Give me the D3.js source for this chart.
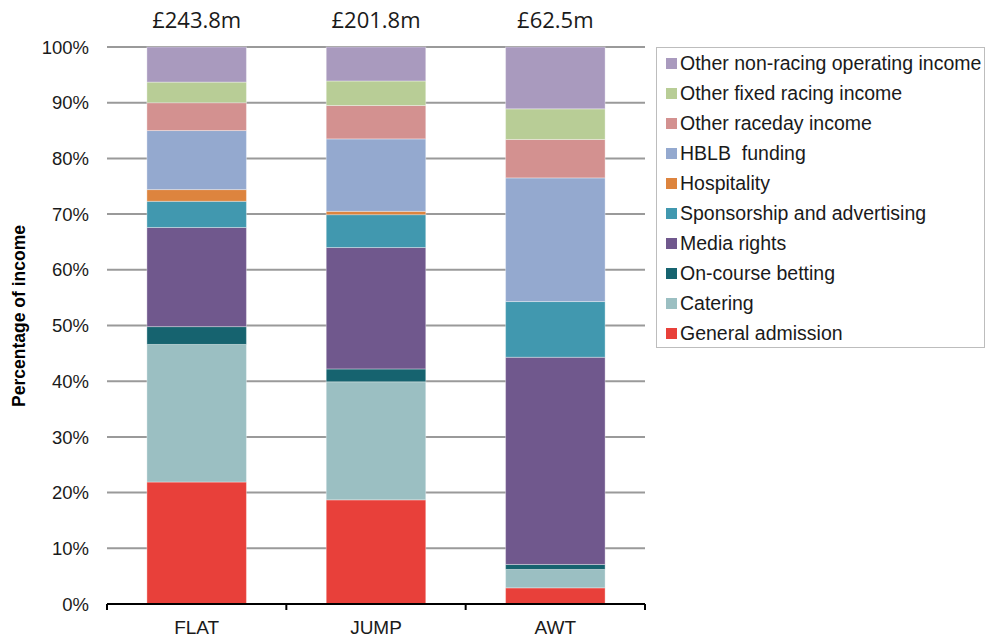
<!DOCTYPE html>
<html>
<head>
<meta charset="utf-8">
<script src="https://cdn.jsdelivr.net/npm/d3@7"></script>
<style>
  html, body { margin: 0; padding: 0; background: #fff; }
  svg { display: block; font-family: "Liberation Sans", Arial, sans-serif; }
</style>
</head>
<body>
<svg id="chart" width="986" height="639"></svg>
<script>
// Racecourse income mix by racing type (share of total income, %)
const categories = ["FLAT", "JUMP", "AWT"];
const totals = ["£243.8m", "£201.8m", "£62.5m"];
const seriesNames = [
  "General admission",
  "Catering",
  "On-course betting",
  "Media rights",
  "Sponsorship and advertising",
  "Hospitality",
  "HBLB  funding",
  "Other raceday income",
  "Other fixed racing income",
  "Other non-racing operating income"
];
const generalAdmission = [21.9, 18.7, 2.9];
const catering         = [24.7, 21.2, 3.3];
const onCourseBetting  = [3.2, 2.3, 0.9];
const mediaRights      = [17.8, 21.8, 37.2];
const sponsorship      = [4.7, 5.9, 10.0];
const hospitality      = [2.1, 0.6, 0.0];
const hblbFunding      = [10.6, 13.0, 22.2];
const otherRaceday     = [5.0, 6.0, 6.9];
const otherFixed       = [3.7, 4.4, 5.5];
const otherNonRacing   = [6.3, 6.1, 11.1];
const yTicks = [0, 10, 20, 30, 40, 50, 60, 70, 80, 90, 100];

const seriesValues = [generalAdmission, catering, onCourseBetting, mediaRights,
  sponsorship, hospitality, hblbFunding, otherRaceday, otherFixed, otherNonRacing];
const colors = ["#E8403A", "#9BBFC2", "#16636F", "#70588D", "#4198AF",
  "#DD843E", "#94A9CF", "#D39190", "#B8CD96", "#A99ABE"];

const rows = categories.map((c, i) => {
  const r = { cat: c };
  seriesNames.forEach((s, k) => { r[s] = seriesValues[k][i]; });
  return r;
});
const stacked = d3.stack().keys(seriesNames)(rows);

const svg = d3.select("#chart");
const plotLeft = 107, plotRight = 645, plotTop = 47, plotBottom = 604;

const x = d3.scaleBand().domain(categories).range([plotLeft, plotRight]).paddingInner(0.445).paddingOuter(0.2225);
const y = d3.scaleLinear().domain([0, 100]).range([plotBottom, plotTop]);
const color = d3.scaleOrdinal().domain(seriesNames).range(colors);

// Gridlines
svg.append("g")
  .selectAll("line")
  .data(yTicks.filter(t => t > 0))
  .join("line")
  .attr("x1", plotLeft).attr("x2", plotRight)
  .attr("y1", d => y(d)).attr("y2", d => y(d))
  .attr("stroke", "#9a9a9a").attr("stroke-width", 2);

// Y tick labels
svg.append("g")
  .selectAll("text")
  .data(yTicks)
  .join("text")
  .attr("x", 89).attr("y", d => y(d))
  .attr("dy", "0.36em")
  .attr("text-anchor", "end")
  .attr("font-size", 18.5)
  .attr("fill", "#1a1a1a")
  .text(d => d + "%");

// Y axis title
svg.append("text")
  .attr("transform", `translate(25,316) rotate(-90)`)
  .attr("text-anchor", "middle")
  .attr("font-size", 17.5)
  .attr("font-weight", "bold")
  .attr("fill", "#000")
  .text("Percentage of income");

// Stacked bars
svg.append("g")
  .selectAll("g")
  .data(stacked)
  .join("g")
  .attr("fill", d => color(d.key))
  .selectAll("rect")
  .data(d => d)
  .join("rect")
  .attr("x", d => x(d.data.cat))
  .attr("width", x.bandwidth())
  .attr("y", d => y(d[1]))
  .attr("height", d => Math.max(0, y(d[0]) - y(d[1])))
  .attr("stroke", "#ffffff")
  .attr("stroke-opacity", 0.35)
  .attr("stroke-width", 1);

// X axis
const xAxis = svg.append("g").attr("transform", `translate(0,${plotBottom})`);
xAxis.append("line")
  .attr("x1", plotLeft).attr("x2", plotRight)
  .attr("stroke", "#000").attr("stroke-width", 2);
const edges = [plotLeft].concat(categories.map(c => x(c) + x.bandwidth() + x.step() * x.paddingInner() / 2));
edges[edges.length - 1] = plotRight;
xAxis.selectAll("line.tick")
  .data(edges)
  .join("line")
  .attr("class", "tick")
  .attr("x1", d => d).attr("x2", d => d)
  .attr("y1", 0).attr("y2", 6)
  .attr("stroke", "#000").attr("stroke-width", 2);
xAxis.selectAll("text")
  .data(categories)
  .join("text")
  .attr("x", d => x(d) + x.bandwidth() / 2)
  .attr("y", 30)
  .attr("text-anchor", "middle")
  .attr("font-size", 19)
  .attr("fill", "#1a1a1a")
  .text(d => d);

// Totals above bars
svg.append("g")
  .selectAll("text")
  .data(categories)
  .join("text")
  .attr("x", d => x(d) + x.bandwidth() / 2)
  .attr("y", 28)
  .attr("text-anchor", "middle")
  .attr("font-family", "'Open Sans', 'Liberation Sans', sans-serif")
  .attr("font-size", 22)
  .attr("fill", "#1a1a1a")
  .text((d, i) => totals[i]);

// Legend
const legend = svg.append("g");
legend.append("rect")
  .attr("x", 656.5).attr("y", 47.5)
  .attr("width", 328).attr("height", 300)
  .attr("fill", "#fff").attr("stroke", "#bdbdbd").attr("stroke-width", 1);
const legendOrder = seriesNames.slice().reverse();
const items = legend.selectAll("g")
  .data(legendOrder)
  .join("g")
  .attr("transform", (d, i) => `translate(666,${63 + i * 30})`);
items.append("rect")
  .attr("x", 0).attr("y", -5)
  .attr("width", 11).attr("height", 11)
  .attr("fill", d => color(d));
items.append("text")
  .attr("x", 14).attr("y", 0)
  .attr("dy", "0.35em")
  .attr("font-size", 19.5)
  .attr("fill", "#1a1a1a")
  .style("white-space", "pre")
  .text(d => d);
</script>
</body>
</html>
